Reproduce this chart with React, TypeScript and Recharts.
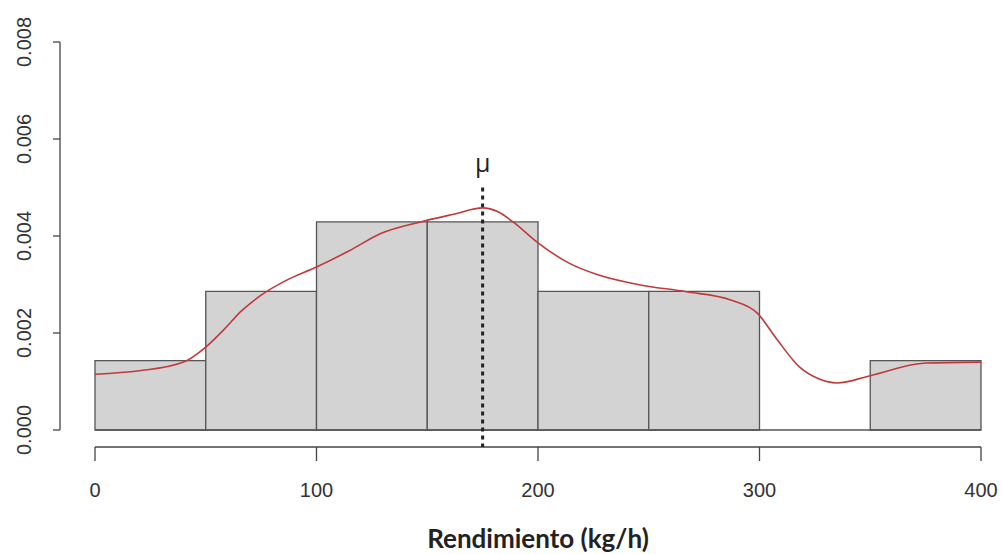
import React from 'react';
import { ComposedChart, Line, XAxis, YAxis, ReferenceArea, ReferenceLine } from 'recharts';

// Histogram bins (kg/h) and their densities
const binStarts = [0, 50, 100, 150, 200, 250, 300, 350];
const binEnds = [50, 100, 150, 200, 250, 300, 350, 400];
const binDensity = [0.00143, 0.00286, 0.00429, 0.00429, 0.00286, 0.00286, 0, 0.00143];

// Kernel density estimate
const curveX = [0, 20, 40, 50, 58, 66, 75, 87, 100, 115, 129, 147, 162, 175, 182, 189, 200, 214, 227, 245, 267, 287, 299, 308, 318, 327, 335, 350, 375, 400];
const curveY = [0.00115, 0.00122, 0.0014, 0.00171, 0.00206, 0.00245, 0.00278, 0.0031, 0.00336, 0.0037, 0.00405, 0.00429, 0.00445, 0.00458, 0.0045, 0.00428, 0.00386, 0.00344, 0.0032, 0.003, 0.00285, 0.00268, 0.00241, 0.00186, 0.0013, 0.00105, 0.00097, 0.00112, 0.00138, 0.0014];

const xTicks = [0, 100, 200, 300, 400];
const yTicks = [0, 0.002, 0.004, 0.006, 0.008];
const meanValue = 175;
const meanLineTop = 0.005;
const xTitle = 'Rendimiento (kg/h)';

const curveData = curveX.map((x, i) => ({ x, y: curveY[i] }));

// Layout
const WIDTH = 1002;
const HEIGHT = 554;
const Y_AXIS_W = 95;
const X_AXIS_H = 124;
const MARGIN = { top: 42, right: 21, left: 0, bottom: 0 };
const PLOT_LEFT = MARGIN.left + Y_AXIS_W;
const PLOT_BOTTOM = HEIGHT - MARGIN.bottom - X_AXIS_H;
const X_GAP = 17; // detached x axis offset below plot
const Y_GAP = 35; // detached y axis offset left of plot
const TICK_LEN = 7;

const AXIS_COLOR = '#444';
const TEXT_COLOR = '#333';
const TICK_FONT = "'Liberation Sans', Arial, sans-serif";

const XTick = (props: any) => {
  const { x, payload } = props;
  const y0 = PLOT_BOTTOM + X_GAP;
  return (
    <g>
      <line x1={x} x2={x} y1={y0} y2={y0 + 14} stroke={AXIS_COLOR} strokeWidth={1.3} />
      <text x={x} y={PLOT_BOTTOM + 60} textAnchor="middle" dominantBaseline="central"
        fontFamily={TICK_FONT} fontSize={20} fill={TEXT_COLOR}>
        {payload.value}
      </text>
    </g>
  );
};

const YTick = (props: any) => {
  const { y, payload } = props;
  const x0 = PLOT_LEFT - Y_GAP;
  const lx = 24;
  return (
    <g>
      <line x1={x0 - TICK_LEN} x2={x0} y1={y} y2={y} stroke={AXIS_COLOR} strokeWidth={1.3} />
      <text x={lx} y={y} textAnchor="middle" dominantBaseline="central"
        transform={`rotate(-90, ${lx}, ${y})`}
        fontFamily={TICK_FONT} fontSize={20} fill={TEXT_COLOR}>
        {Number(payload.value).toFixed(3)}
      </text>
    </g>
  );
};

const xAxisLineShape = (p: any) => (
  <line x1={p.x1} x2={p.x2} y1={p.y1 + X_GAP} y2={p.y2 + X_GAP} stroke={AXIS_COLOR} strokeWidth={1.3} />
);

const yAxisLineShape = (p: any) => (
  <line x1={p.x1 - Y_GAP} x2={p.x2 - Y_GAP} y1={p.y1} y2={p.y2} stroke={AXIS_COLOR} strokeWidth={1.3} />
);

const meanLineShape = (p: any) => {
  const yTop = Math.min(p.y1, p.y2);
  const yBot = Math.max(p.y1, p.y2) + X_GAP;
  return (
    <line x1={p.x1} x2={p.x2} y1={yTop} y2={yBot} stroke="#222" strokeWidth={3} strokeDasharray="4 4" />
  );
};

export default function App() {
  return (
    <div style={{ position: 'absolute', top: 0, left: 0, width: WIDTH, height: HEIGHT, background: '#fff' }}>
      <ComposedChart width={WIDTH} height={HEIGHT} data={curveData} margin={MARGIN}>
        <XAxis
          type="number"
          dataKey="x"
          domain={[0, 400]}
          ticks={xTicks}
          axisLine={false}
          tickLine={false}
          tick={XTick}
          height={X_AXIS_H}
          interval={0}
          label={{
            value: xTitle,
            position: 'insideBottom',
            offset: 6,
            style: { fontFamily: "Lato, 'Open Sans', sans-serif", fontWeight: 700, fontSize: 26, fill: '#222' },
          }}
        />
        <YAxis
          type="number"
          domain={[0, 0.008]}
          ticks={yTicks}
          axisLine={false}
          tickLine={false}
          tick={YTick}
          width={Y_AXIS_W}
          interval={0}
        />
        <ReferenceLine
          segment={[{ x: xTicks[0], y: 0 }, { x: xTicks[xTicks.length - 1], y: 0 }]}
          shape={xAxisLineShape}
          ifOverflow="visible"
        />
        <ReferenceLine
          segment={[{ x: 0, y: yTicks[0] }, { x: 0, y: yTicks[yTicks.length - 1] }]}
          shape={yAxisLineShape}
          ifOverflow="visible"
        />
        {binStarts.map((s, i) => (
          <ReferenceArea
            key={`bin-${i}`}
            x1={s}
            x2={binEnds[i]}
            y1={0}
            y2={binDensity[i]}
            fill="#d3d3d3"
            fillOpacity={1}
            stroke="#555"
            strokeWidth={1.3}
            ifOverflow="visible"
          />
        ))}
        <ReferenceLine
          segment={[{ x: binStarts[0], y: 0 }, { x: binEnds[binEnds.length - 1], y: 0 }]}
          stroke="#555"
          strokeWidth={1.3}
          ifOverflow="visible"
        />
        <ReferenceLine
          segment={[{ x: meanValue, y: 0 }, { x: meanValue, y: meanLineTop }]}
          shape={meanLineShape}
          ifOverflow="visible"
          label={{
            value: 'μ',
            position: 'top',
            offset: 16,
            style: { fontFamily: "'Open Sans', sans-serif", fontSize: 25, fill: '#222' },
          }}
        />
        <Line
          type="monotone"
          dataKey="y"
          stroke="#c0393b"
          strokeWidth={1.6}
          dot={false}
          isAnimationActive={false}
        />
      </ComposedChart>
    </div>
  );
}
